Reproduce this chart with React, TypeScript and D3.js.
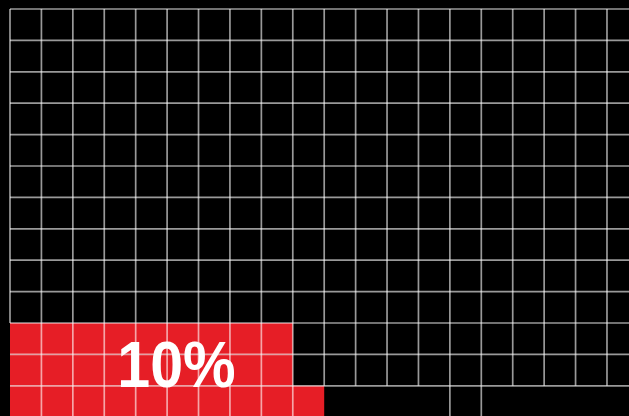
import React from "react";
import * as d3 from "d3";

const WIDTH = 629;
const HEIGHT = 416;

// Grid definition (waffle)
const columnCount = 20;
const rowCount = 13;
// filled (red) cells per row: row index -> number of cells from the left
const filledRows = [10, 11, 12];
const filledCounts = [9, 9, 10];
// column boundaries drawn in the last (partial) row
const lastRowBoundaries = [1, 2, 3, 4, 5, 6, 7, 8, 9, 14, 15];
const label = "10%";

export default function App() {
  const x = d3.scaleLinear().domain([0, columnCount]).range([10, 638.4]);
  const y = d3.scaleLinear().domain([0, rowCount]).range([9, 417.2]);
  const lastRow = rowCount - 1;
  const lineColor = "rgba(255,255,255,0.6)";
  const sw = 1.7;

  return (
    <svg
      width={WIDTH}
      height={HEIGHT}
      style={{ position: "fixed", left: 0, top: 0, background: "#000" }}
    >
      <rect x={0} y={0} width={WIDTH} height={HEIGHT} fill="#000" />
      {filledRows.map((r, i) => (
        <rect
          key={"f" + r}
          x={x(0)}
          y={y(r)}
          width={x(filledCounts[i]) - x(0)}
          height={y(r + 1) - y(r)}
          fill="#e61e26"
        />
      ))}
      {/* horizontal grid lines */}
      {d3.range(0, rowCount).map((r) => (
        <line
          key={"h" + r}
          x1={x(0)}
          x2={x(columnCount)}
          y1={y(r)}
          y2={y(r)}
          stroke={lineColor}
          strokeWidth={sw}
        />
      ))}
      {/* vertical grid lines through full rows */}
      {d3.range(0, columnCount + 1).map((c) => (
        <line
          key={"v" + c}
          x1={x(c)}
          x2={x(c)}
          y1={y(0)}
          y2={c === 0 ? y(filledRows[0]) : y(lastRow)}
          stroke={lineColor}
          strokeWidth={sw}
        />
      ))}
      {/* vertical segments in the last, partial row */}
      {lastRowBoundaries.map((c) => (
        <line
          key={"lv" + c}
          x1={x(c)}
          x2={x(c)}
          y1={y(lastRow)}
          y2={y(rowCount)}
          stroke={lineColor}
          strokeWidth={sw}
        />
      ))}
      <text
        transform="translate(176.5,387) scale(0.91,1)"
        textAnchor="middle"
        fill="#fff"
        fontFamily="'Liberation Sans', Arial, sans-serif"
        fontWeight="bold"
        fontSize={65}
      >
        {label}
      </text>
    </svg>
  );
}
